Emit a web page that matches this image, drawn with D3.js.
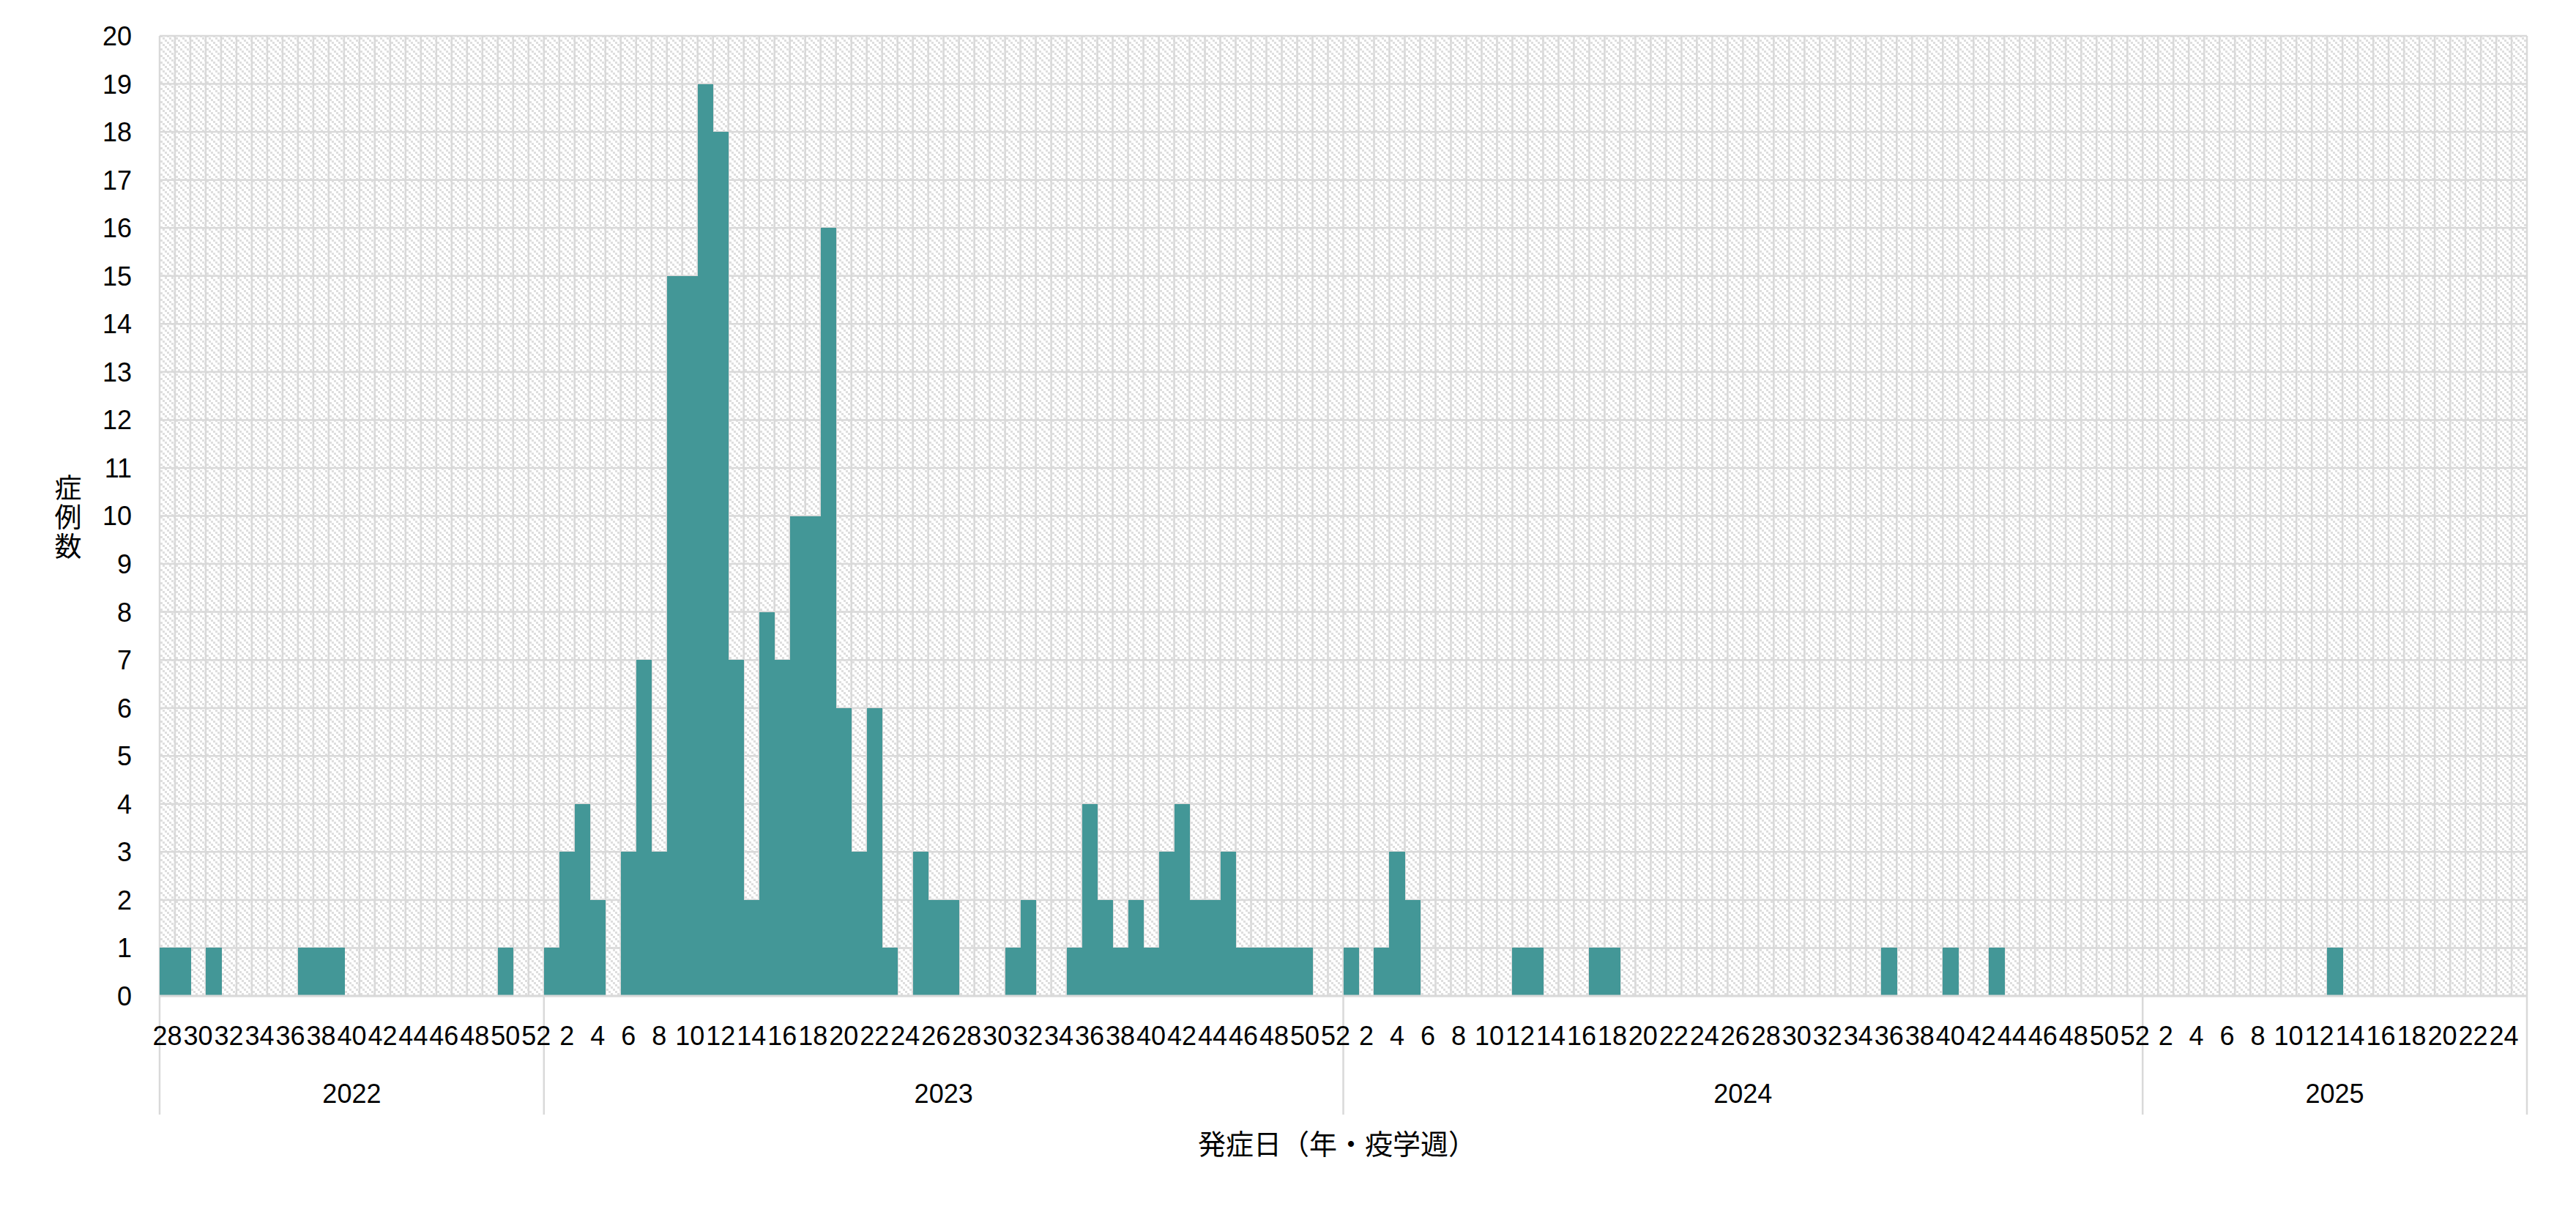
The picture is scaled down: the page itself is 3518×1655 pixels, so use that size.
<!DOCTYPE html>
<html>
<head>
<meta charset="utf-8">
<script src="https://cdn.jsdelivr.net/npm/d3@7"></script>
<style>
  html, body { margin: 0; padding: 0; background: #ffffff; }
  svg { display: block; }
</style>
</head>
<body>
<svg id="chart" width="3518" height="1655"></svg>
<script>
// ---- Data ----
const years = ["2022", "2023", "2024", "2025"];
const firstWeek = [28, 1, 1, 1];
const counts2022 = [1,1,0,1,0,0,0,0,0,1,1,1,0,0,0,0,0,0,0,0,0,0,1,0,0];
const counts2023 = [1,3,4,2,0,3,7,3,15,15,19,18,7,2,8,7,10,10,16,6,3,6,1,0,3,2,2,0,0,0,1,2,0,0,1,4,2,1,2,1,3,4,2,2,3,1,1,1,1,1,0,0];
const counts2024 = [1,0,1,3,2,0,0,0,0,0,0,1,1,0,0,0,1,1,0,0,0,0,0,0,0,0,0,0,0,0,0,0,0,0,0,1,0,0,0,1,0,0,1,0,0,0,0,0,0,0,0,0];
const counts2025 = [0,0,0,0,0,0,0,0,0,0,0,0,1,0,0,0,0,0,0,0,0,0,0,0,0];
const countsByYear = [counts2022, counts2023, counts2024, counts2025];
const yTicks = [0,1,2,3,4,5,6,7,8,9,10,11,12,13,14,15,16,17,18,19,20];
const yTitle = "症例数";
const xTitle = "発症日（年・疫学週）";

// build category table
const rows = [];
years.forEach((yr, i) => {
  countsByYear[i].forEach((v, j) => {
    rows.push({ key: yr + "-" + (firstWeek[i] + j), year: yr, week: firstWeek[i] + j, value: v });
  });
});

// ---- Layout ----
const L = 218, R = 3451, T = 49, B = 1360;
const svg = d3.select("#chart");
const x = d3.scaleBand().domain(rows.map(d => d.key)).range([L, R]).padding(0);
const y = d3.scaleLinear().domain([0, 20]).range([B, T]);
const grid = "#d9d9d9";
const numFont = "'Liberation Sans', Arial, sans-serif";
const jpFont = "'Noto Sans CJK JP', sans-serif";

// hatch pattern
const defs = svg.append("defs");
const pat = defs.append("pattern").attr("id", "hatch")
  .attr("patternUnits", "userSpaceOnUse").attr("width", 9).attr("height", 9);
pat.append("rect").attr("width", 9).attr("height", 9).attr("fill", "#ffffff");
[[0,0],[3,3],[6,6]].forEach(([a,b]) => {
  pat.append("rect").attr("x", a).attr("y", b).attr("width", 3).attr("height", 3).attr("fill", "#dedede");
});

svg.append("rect").attr("x", L).attr("y", T).attr("width", R - L).attr("height", B - T).attr("fill", "url(#hatch)");

// horizontal gridlines
svg.append("g").selectAll("line").data(yTicks).join("line")
  .attr("x1", L).attr("x2", R).attr("y1", d => y(d)).attr("y2", d => y(d))
  .attr("stroke", grid).attr("stroke-width", 2.5);

// vertical gridlines at week boundaries
const bounds = rows.map(d => x(d.key)).concat([R]);
svg.append("g").selectAll("line").data(bounds).join("line")
  .attr("x1", d => d).attr("x2", d => d).attr("y1", T).attr("y2", B)
  .attr("stroke", grid).attr("stroke-width", 2.5);

// bars
svg.append("g").attr("shape-rendering", "crispEdges")
  .selectAll("rect").data(rows.filter(d => d.value > 0)).join("rect")
  .attr("x", d => x(d.key)).attr("width", x.bandwidth() + 0.6)
  .attr("y", d => y(d.value)).attr("height", d => y(0) - y(d.value))
  .attr("fill", "#439797");

// x axis line
svg.append("line").attr("x1", L).attr("x2", R).attr("y1", B).attr("y2", B)
  .attr("stroke", grid).attr("stroke-width", 3);

// year separators
const yearStarts = years.map(yr => x(rows.find(d => d.year === yr).key));
const seps = yearStarts.concat([R]);
svg.append("g").selectAll("line").data(seps).join("line")
  .attr("x1", d => d).attr("x2", d => d).attr("y1", B).attr("y2", 1522)
  .attr("stroke", grid).attr("stroke-width", 2.5);

// y tick labels
svg.append("g").selectAll("text").data(yTicks).join("text")
  .attr("x", 180).attr("y", d => y(d)).attr("dy", "0.36em")
  .attr("text-anchor", "end").attr("font-family", numFont).attr("font-size", 36)
  .attr("fill", "#000").text(d => d);

// week labels (every other category)
svg.append("g").selectAll("text").data(rows.filter((d, i) => i % 2 === 0)).join("text")
  .attr("x", d => x(d.key) + x.bandwidth() / 2).attr("y", 1414).attr("dy", "0.36em")
  .attr("text-anchor", "middle").attr("font-family", numFont).attr("font-size", 36)
  .attr("fill", "#000").text(d => d.week);

// year labels
svg.append("g").selectAll("text").data(years).join("text")
  .attr("x", (d, i) => (seps[i] + seps[i + 1]) / 2).attr("y", 1493).attr("dy", "0.36em")
  .attr("text-anchor", "middle").attr("font-family", numFont).attr("font-size", 36)
  .attr("fill", "#000").text(d => d);

// y title (vertical, upright characters)
svg.append("text").attr("x", 93).attr("y", 707)
  .attr("font-family", jpFont).attr("font-size", 37)
  .attr("fill", "#000").attr("text-anchor", "middle")
  .style("writing-mode", "vertical-rl").style("text-orientation", "upright")
  .attr("letter-spacing", 3)
  .text(yTitle);

// x title
svg.append("text").attr("x", 1826).attr("y", 1576)
  .attr("text-anchor", "middle").attr("font-family", jpFont).attr("font-size", 38)
  .attr("fill", "#000").text(xTitle);
</script>
</body>
</html>
